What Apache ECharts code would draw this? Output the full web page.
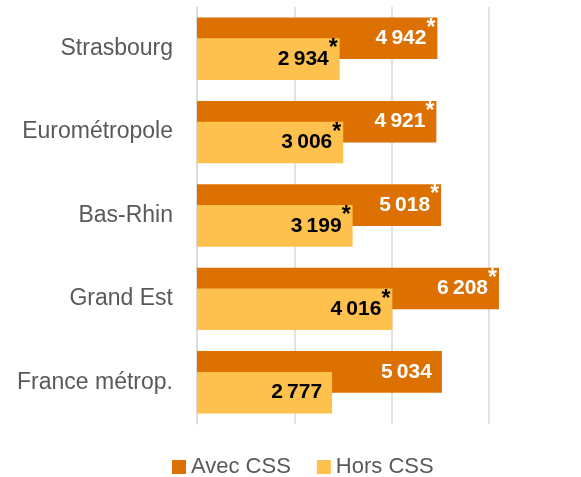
<!DOCTYPE html>
<html><head><meta charset="utf-8">
<script src="https://cdn.jsdelivr.net/npm/echarts@6/dist/echarts.min.js"></script>
<style>html,body{margin:0;padding:0;background:#fff}#c{width:581px;height:477px}</style>
</head><body><div id="c"></div>
<script>
const categories = ['Strasbourg', 'Eurométropole', 'Bas-Rhin', 'Grand Est', 'France métrop.'];
const avecCSS = [4942, 4921, 5018, 6208, 5034];
const horsCSS = [2934, 3006, 3199, 4016, 2777];
const avecSig = [true, true, true, true, false];
const horsSig = [true, true, true, true, false];
const seriesNames = ['Avec CSS', 'Hors CSS'];

function fmt(v){ return String(v).replace(/\B(?=(\d{3})+(?!\d))/g, '\u2009'); }
const FONT = 'Liberation Sans';

function mkLabel(sig, color){
  return {
    show: true, position: 'insideRight', distance: 2,
    formatter: p => sig[p.dataIndex] ? '{n|' + fmt(p.value) + '}{s|*}' : '{n|' + fmt(p.value) + '}{g| }',
    rich: {
      n: {fontFamily: FONT, fontSize: 21, fontWeight: 'bold', color: color},
      s: {fontFamily: FONT, fontSize: 23, fontWeight: 'bold', color: color, padding: [0,0,20,0]},
      g: {fontFamily: FONT, fontSize: 17, width: 8}
    }
  };
}

const chart = echarts.init(document.getElementById('c'));
chart.setOption({
  animation: false,
  grid: {left: 197, top: 7, bottom: 53, right: 43.5, containLabel: false},
  legend: {
    top: 451, left: 167, itemWidth: 14, itemHeight: 14, itemGap: 26,
    icon: 'rect',
    textStyle: {fontFamily: FONT, fontSize: 22, color: '#595959'},
    data: seriesNames
  },
  xAxis: {
    type: 'value', min: 0, max: 7000, interval: 2000,
    axisLabel: {show: false}, axisLine: {show: false}, axisTick: {show: false},
    splitLine: {show: true, showMaxLine: false, lineStyle: {color: '#d9d9d9', width: 1.5}}
  },
  yAxis: {
    type: 'category', data: categories, inverse: true,
    axisLine: {show: true, lineStyle: {color: '#d9d9d9', width: 1.5}},
    axisTick: {show: false},
    axisLabel: {fontFamily: FONT, fontSize: 23, color: '#595959', margin: 24}
  },
  series: [
    {name: seriesNames[0], type: 'bar', data: avecCSS, barWidth: 41.6, barGap: '-50%',
     itemStyle: {color: '#DC7000'}, label: mkLabel(avecSig, '#ffffff')},
    {name: seriesNames[1], type: 'bar', data: horsCSS, barWidth: 41.6, barGap: '-50%',
     itemStyle: {color: '#FEC14E'}, label: mkLabel(horsSig, '#000000')}
  ]
});
</script></body></html>
